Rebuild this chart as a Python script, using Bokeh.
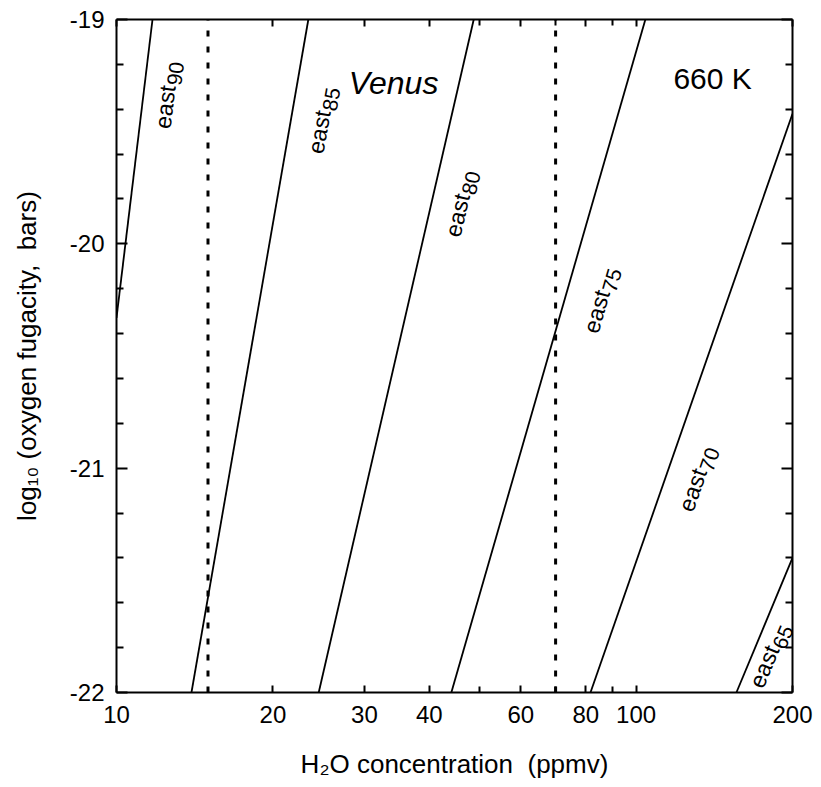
import math
from bokeh.plotting import figure
from bokeh.models import Range1d, FixedTicker, LogAxis, LinearAxis, Label
from bokeh.core.properties import value
from bokeh.embed import file_html
from bokeh.resources import INLINE

FONT = "Liberation Sans"

# ---- data -------------------------------------------------------------
x_lo, x_hi = 10, 200
y_lo, y_hi = -22, -19
x_tick_values = [10, 20, 30, 40, 60, 80, 100, 200]
x_tick_labels = ["10", "20", "30", "40", "60", "80", "100", "200"]
x_minor_values = [50, 70, 90]
y_tick_values = [-22, -21, -20, -19]
y_tick_labels = ["-22", "-21", "-20", "-19"]
y_minor_values = [-21.8, -21.6, -21.4, -21.2, -20.8, -20.6, -20.4, -20.2,
                  -19.8, -19.6, -19.4, -19.2]

east90_h2o = [10.0, 11.73]
east90_fo2 = [-20.33, -19.0]
east85_h2o = [13.94, 23.4]
east85_fo2 = [-22.0, -19.0]
east80_h2o = [24.5, 48.7]
east80_fo2 = [-22.0, -19.0]
east75_h2o = [44.1, 104.2]
east75_fo2 = [-22.0, -19.0]
east70_h2o = [81.7, 200.0]
east70_fo2 = [-22.0, -19.42]
east65_h2o = [156.0, 200.0]
east65_fo2 = [-22.0, -21.40]

h2o_limits = [15.0, 70.0]          # dotted vertical lines (ppmv)

label_subs = ["90", "85", "80", "75", "70", "65"]
label_h2o = [12.26, 24.15, 44.33, 81.7, 124.5, 170.0]
label_fo2 = [-19.486, -19.597, -19.967, -20.395, -21.189, -21.974]
label_angle = [83, 80, 77, 74, 71, 67.5]

# ---- figure -----------------------------------------------------------
p = figure(width=821, height=787, x_axis_type="log",
           x_range=Range1d(x_lo, x_hi), y_range=Range1d(y_lo, y_hi),
           output_backend="svg", toolbar_location=None,
           min_border_left=116, min_border_right=29,
           min_border_top=19, min_border_bottom=95)
p.outline_line_color = None
p.xgrid.visible = False
p.ygrid.visible = False
p.background_fill_color = "white"
p.border_fill_color = "white"

xt = FixedTicker(ticks=x_tick_values, minor_ticks=x_minor_values)
yt = FixedTicker(ticks=y_tick_values, minor_ticks=y_minor_values)

TICK_FS = 24
TITLE_FS = 26


def style_axis(ax, ticker, labels, major_in, minor_in, show_labels):
    ax.ticker = ticker
    ax.axis_line_width = 2
    ax.axis_line_color = "black"
    ax.major_tick_in = major_in
    ax.major_tick_out = 0
    ax.minor_tick_in = minor_in
    ax.minor_tick_out = 0
    ax.major_tick_line_width = 2
    ax.minor_tick_line_width = 2
    ax.major_tick_line_color = "black"
    ax.minor_tick_line_color = "black"
    ax.major_label_text_font = FONT
    ax.major_label_text_font_size = f"{TICK_FS}px"
    ax.major_label_text_color = "black"
    if show_labels:
        ax.major_label_overrides = {v: s for v, s in zip(ticker.ticks, labels)}
    else:
        ax.major_label_overrides = {v: "" for v in ticker.ticks}
        ax.major_label_standoff = 0


xa = p.xaxis[0]
style_axis(xa, xt, x_tick_labels, 7, 6, True)
xa.major_label_standoff = 13
xa.axis_label = "H\u2082O concentration\u00a0 (ppmv)"
xa.axis_label_text_font = FONT
xa.axis_label_text_font_size = f"{TITLE_FS}px"
xa.axis_label_text_font_style = "normal"
xa.axis_label_text_color = "black"
xa.axis_label_standoff = 23

ya = p.yaxis[0]
style_axis(ya, yt, y_tick_labels, 11, 7, True)
ya.major_label_standoff = 12
ya.axis_label = "log\u2081\u2080 (oxygen fugacity,\u00a0 bars)"
ya.axis_label_text_font = FONT
ya.axis_label_text_font_size = f"{TITLE_FS}px"
ya.axis_label_text_font_style = "normal"
ya.axis_label_text_color = "black"
ya.axis_label_standoff = 25

top = LogAxis()
style_axis(top, xt, x_tick_labels, 7, 6, False)
p.add_layout(top, "above")
right = LinearAxis()
style_axis(right, yt, y_tick_labels, 11, 7, False)
p.add_layout(right, "right")

# ---- curves -----------------------------------------------------------
for xs, ys in [(east90_h2o, east90_fo2), (east85_h2o, east85_fo2),
               (east80_h2o, east80_fo2), (east75_h2o, east75_fo2),
               (east70_h2o, east70_fo2), (east65_h2o, east65_fo2)]:
    p.line(xs, ys, line_color="black", line_width=1.8)

for xv in h2o_limits:
    p.line([xv, xv], [y_lo, y_hi], line_color="black", line_width=3,
           line_dash="6 10")

# ---- curve labels -----------------------------------------------------
F_MAIN, F_SUB = 23, 21
along = 1.89 * F_MAIN + 1
down = 0.28 * F_MAIN
sub_dx, sub_dy = [], []
for a in label_angle:
    r = math.radians(a)
    sub_dx.append(along * math.cos(r) + down * math.sin(r))
    sub_dy.append(-along * math.sin(r) + down * math.cos(r))

p.text(x=label_h2o, y=label_fo2, text=["east"] * len(label_h2o),
       angle=label_angle, angle_units="deg",
       text_font=value(FONT), text_font_size=f"{F_MAIN}px",
       text_align="left", text_baseline="alphabetic", text_color="black")
p.text(x=label_h2o, y=label_fo2, text=label_subs,
       angle=label_angle, angle_units="deg",
       x_offset=sub_dx, y_offset=sub_dy,
       text_font=value(FONT), text_font_size=f"{F_SUB}px",
       text_align="left", text_baseline="alphabetic", text_color="black")

p.add_layout(Label(x=28, y=-19.285, text="Venus", text_font=FONT,
                   text_font_size="32px", text_font_style="italic",
                   text_baseline="alphabetic", text_color="black"))
p.add_layout(Label(x=118, y=-19.263, text="660 K", text_font=FONT,
                   text_font_size="30px",
                   text_baseline="alphabetic", text_color="black"))

open("out.html", "w").write(file_html(p, INLINE))
